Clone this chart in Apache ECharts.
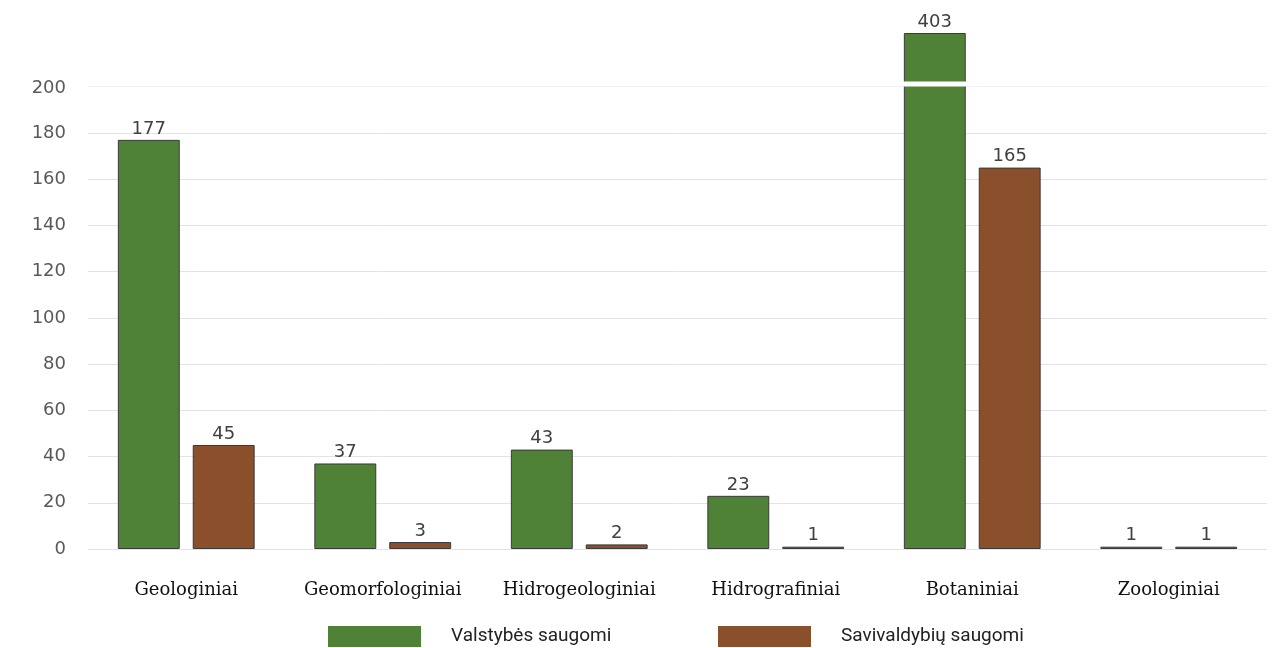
<!DOCTYPE html>
<html>
<head>
<meta charset="utf-8">
<script src="https://cdn.jsdelivr.net/npm/echarts@6/dist/echarts.min.js"></script>
<style>
  html, body { margin: 0; padding: 0; background: #fff; }
  #chart { width: 1281px; height: 648px; }
</style>
</head>
<body>
<div id="chart"></div>
<script>
// Saugomų gamtos paveldo objektų skaičius pagal tipą
const categories = ['Geologiniai', 'Geomorfologiniai', 'Hidrogeologiniai', 'Hidrografiniai', 'Botaniniai', 'Zoologiniai'];
const seriesNames = ['Valstybės saugomi', 'Savivaldybių saugomi'];
const stateProtected = [177, 37, 43, 23, 403, 1];
const municipalProtected = [45, 3, 2, 1, 165, 1];
const gridValues = [0, 20, 40, 60, 80, 100, 120, 140, 160, 180, 200];

const GREEN = '#4f8236';
const BROWN = '#8a4f2b';
const numFont = '"DejaVu Sans", "Open Sans", sans-serif';

const chart = echarts.init(document.getElementById('chart'), null, { renderer: 'canvas' });

const barLabel = {
  show: true,
  position: 'top',
  distance: 2,
  color: '#404040',
  fontSize: 18,
  fontFamily: numFont
};

function legendFor(name, left) {
  return {
    data: [name],
    left: left, top: 626,
    padding: 0,
    itemWidth: 93, itemHeight: 21,
    icon: 'rect',
    selectedMode: false,
    itemStyle: { borderWidth: 0 },
    textStyle: { color: '#222', fontSize: 19, fontFamily: 'Roboto, sans-serif', padding: [0, 0, 0, 25] }
  };
}

chart.setOption({
  animation: false,
  grid: { left: 88, right: 14, top: 33, bottom: 99, containLabel: false },
  legend: [legendFor(seriesNames[0], 328), legendFor(seriesNames[1], 718)],
  xAxis: {
    type: 'category',
    data: categories,
    axisLine: { show: false },
    axisTick: { show: false },
    axisLabel: {
      interval: 0,
      hideOverlap: false,
      margin: 32,
      color: '#111',
      fontSize: 18,
      fontFamily: '"DejaVu Serif", "Liberation Serif", serif'
    }
  },
  yAxis: {
    type: 'value',
    min: 0,
    max: 403,
    interval: 20,
    breaks: [{ start: 200, end: 382, gap: '1%' }],
    breakArea: {
      show: true,
      expandOnClick: false,
      zigzagAmplitude: 0,
      itemStyle: { color: '#ffffff', borderWidth: 0, borderColor: '#ffffff', opacity: 1 }
    },
    axisLine: { show: false },
    axisTick: { show: false },
    splitLine: { show: false },
    axisLabel: {
      margin: 22,
      color: '#595959',
      fontSize: 18,
      fontFamily: numFont,
      formatter: function (v) {
        return gridValues.indexOf(v) >= 0 ? String(v) : '';
      }
    }
  },
  series: [
    {
      name: seriesNames[0],
      type: 'bar',
      data: stateProtected,
      barWidth: '31.5%',
      barGap: '21%',
      itemStyle: { color: GREEN, borderColor: '#3a3a3a', borderWidth: 1 },
      label: barLabel,
      markLine: {
        silent: true,
        symbol: 'none',
        z: 1,
        label: { show: false },
        lineStyle: { color: '#e3e3e3', width: 1, type: 'solid' },
        data: gridValues.map(v => ({ yAxis: v }))
      }
    },
    {
      name: seriesNames[1],
      type: 'bar',
      data: municipalProtected,
      barWidth: '31.5%',
      itemStyle: { color: BROWN, borderColor: '#3a3a3a', borderWidth: 1 },
      label: barLabel
    }
  ]
});
</script>
</body>
</html>
